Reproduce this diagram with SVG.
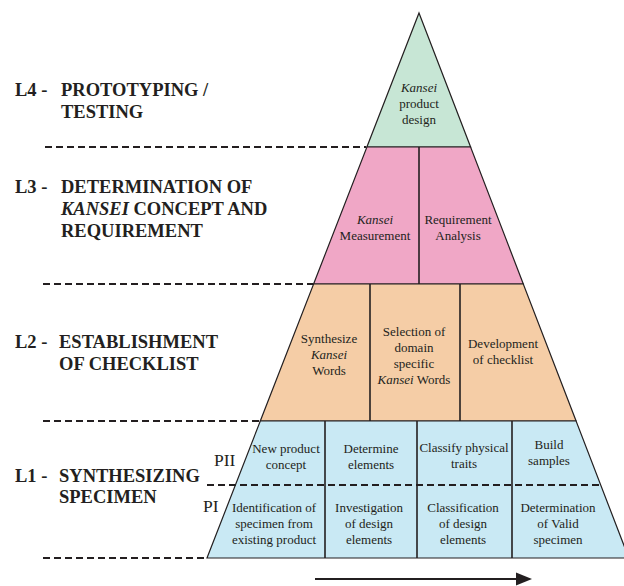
<svg xmlns="http://www.w3.org/2000/svg" width="624" height="586" viewBox="0 0 624 586">
<defs>
<style>
.bg{fill:#ffffff}
.lvl{stroke:#231f20;stroke-width:1.2;stroke-linejoin:miter}
.l4{fill:#c7e6d5}
.l3{fill:#f0a7c6}
.l2{fill:#f5cda6}
.l1{fill:#c9e9f4}
.div{stroke:#231f20;stroke-width:1.6}
.dash{stroke:#231f20;stroke-width:2;stroke-dasharray:7 4;fill:none}
.cell{font-family:"Liberation Serif","Times New Roman",serif;font-size:13px;fill:#231f20;text-anchor:middle}
.head{font-family:"Liberation Serif","Times New Roman",serif;font-size:18.5px;font-weight:bold;fill:#231f20}
.ph{font-family:"Liberation Serif","Times New Roman",serif;font-size:17.5px;fill:#231f20}
.it{font-style:italic}
</style>
<marker id="ah" markerWidth="8" markerHeight="8" refX="8" refY="4" orient="auto" markerUnits="userSpaceOnUse" viewBox="0 0 8 8">
<path d="M0,0 L8,4 L0,8 Z" fill="#231f20"/>
</marker>
</defs>
<rect class="bg" x="0" y="0" width="624" height="586"/>

<g id="headings">
<text class="head" x="15" y="96">L4 -</text>
<text class="head" x="61" y="96">PROTOTYPING /</text>
<text class="head" x="61" y="118">TESTING</text>

<text class="head" x="15" y="193">L3 -</text>
<text class="head" x="61" y="193">DETERMINATION OF</text>
<text class="head" x="61" y="215"><tspan class="it">KANSEI</tspan> CONCEPT AND</text>
<text class="head" x="61" y="237">REQUIREMENT</text>

<text class="head" x="15" y="348">L2 -</text>
<text class="head" x="59" y="348">ESTABLISHMENT</text>
<text class="head" x="59" y="370">OF CHECKLIST</text>

<text class="head" x="15" y="482">L1 -</text>
<text class="head" x="59" y="482">SYNTHESIZING</text>
<text class="head" x="59" y="503">SPECIMEN</text>
</g>

<g id="level4">
<polygon class="lvl l4" points="419,13 470.6,147 366.9,147"/>
<text class="cell it" x="419" y="92">Kansei</text>
<text class="cell" x="419" y="108">product</text>
<text class="cell" x="419" y="124">design</text>
</g>

<g id="level3">
<polygon class="lvl l3" points="366.9,147 470.6,147 523.3,284 313.6,284"/>
<line class="div" x1="419" y1="147" x2="419" y2="284"/>
<text class="cell it" x="375" y="224">Kansei</text>
<text class="cell" x="375" y="240">Measurement</text>
<text class="cell" x="458" y="224">Requirement</text>
<text class="cell" x="458" y="240">Analysis</text>
</g>

<g id="level2">
<polygon class="lvl l2" points="313.6,284 523.3,284 576.1,421 260.3,421"/>
<line class="div" x1="370" y1="284" x2="370" y2="421"/>
<line class="div" x1="460" y1="284" x2="460" y2="421"/>
<text class="cell" x="329" y="343">Synthesize</text>
<text class="cell it" x="329" y="359">Kansei</text>
<text class="cell" x="329" y="375">Words</text>
<text class="cell" x="414" y="336">Selection of</text>
<text class="cell" x="414" y="352">domain</text>
<text class="cell" x="414" y="368">specific</text>
<text class="cell" x="414" y="384"><tspan class="it">Kansei</tspan> Words</text>
<text class="cell" x="503" y="348">Development</text>
<text class="cell" x="503" y="364">of checklist</text>
</g>

<g id="level1">
<polygon class="lvl l1" points="260.3,421 576.1,421 628.8,558 207,558"/>
<line class="div" x1="325" y1="421" x2="325" y2="558"/>
<line class="div" x1="417" y1="421" x2="417" y2="558"/>
<line class="div" x1="512" y1="421" x2="512" y2="558"/>
<text class="ph" x="214" y="466">PII</text>
<text class="ph" x="203" y="512">PI</text>
<text class="cell" x="286" y="453">New product</text>
<text class="cell" x="286" y="469">concept</text>
<text class="cell" x="371" y="453">Determine</text>
<text class="cell" x="371" y="469">elements</text>
<text class="cell" x="464" y="452">Classify physical</text>
<text class="cell" x="464" y="468">traits</text>
<text class="cell" x="549" y="449">Build</text>
<text class="cell" x="549" y="465">samples</text>
<text class="cell" x="274" y="512">Identification of</text>
<text class="cell" x="274" y="528">specimen from</text>
<text class="cell" x="274" y="544">existing product</text>
<text class="cell" x="369" y="512">Investigation</text>
<text class="cell" x="369" y="528">of design</text>
<text class="cell" x="369" y="544">elements</text>
<text class="cell" x="463" y="512">Classification</text>
<text class="cell" x="463" y="528">of design</text>
<text class="cell" x="463" y="544">elements</text>
<text class="cell" x="558" y="512">Determination</text>
<text class="cell" x="558" y="528">of Valid</text>
<text class="cell" x="558" y="544">specimen</text>
</g>

<g id="connectors">
<line class="dash" x1="45" y1="147" x2="366" y2="147"/>
<line class="dash" x1="43" y1="284" x2="313" y2="284"/>
<line class="dash" x1="43" y1="421" x2="260" y2="421"/>
<line class="dash" x1="43" y1="558" x2="207" y2="558"/>
<line class="dash" x1="207" y1="485" x2="600" y2="485"/>
<line x1="315" y1="579" x2="518" y2="579" stroke="#231f20" stroke-width="2"/>
<polygon points="516,572.5 532,579 516,585.5" fill="#231f20"/>
</g>
</svg>
